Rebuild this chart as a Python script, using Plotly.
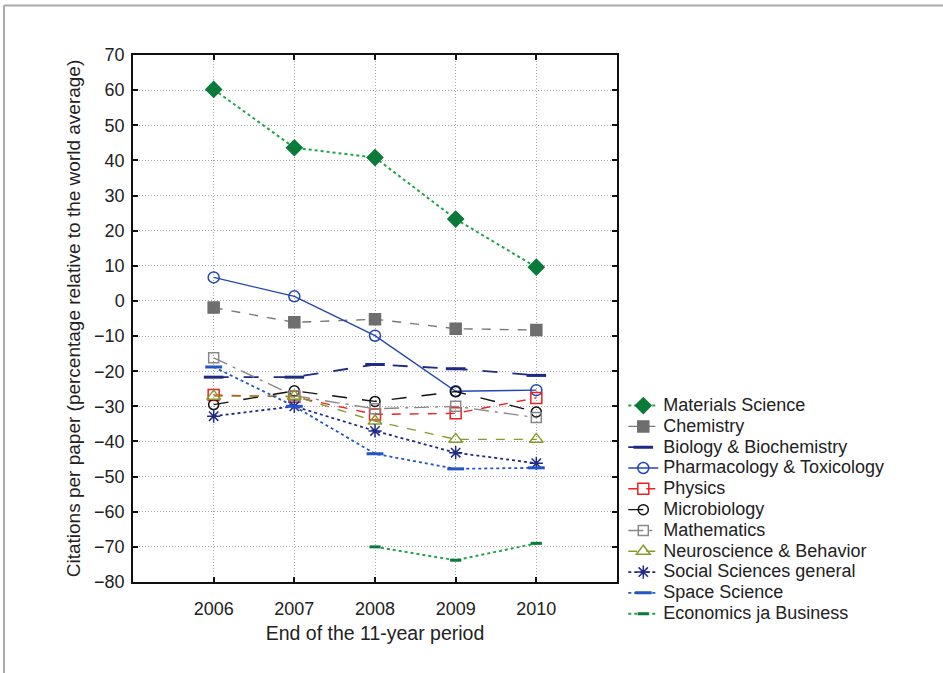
import plotly.graph_objects as go

years = [2006, 2007, 2008, 2009, 2010]

materials_science = [60.2, 43.6, 40.8, 23.3, 9.6]
chemistry = [-1.9, -6.1, -5.2, -7.9, -8.3]
biology_biochemistry = [-21.7, -21.7, -18.1, -19.3, -21.2]
pharmacology_toxicology = [6.7, 1.3, -9.9, -25.7, -25.4]
physics = [-26.8, -27.3, -32.3, -32.0, -27.6]
microbiology = [-29.5, -25.6, -28.6, -25.8, -31.6]
mathematics = [-16.2, -27.0, -30.7, -30.0, -33.2]
neuroscience_behavior = [-27.1, -27.1, -34.2, -39.4, -39.4]
social_sciences = [-32.8, -30.0, -37.0, -43.2, -46.2]
space_science = [-18.8, -30.0, -43.5, -47.8, -47.5]
econ_years = [2008, 2009, 2010]
economics_business = [-70.0, -73.8, -69.0]

series_names = [
    "Materials Science", "Chemistry", "Biology & Biochemistry",
    "Pharmacology & Toxicology", "Physics", "Microbiology", "Mathematics",
    "Neuroscience & Behavior", "Social Sciences general", "Space Science",
    "Economics ja Business",
]

y_ticks = list(range(-80, 71, 10))

FONT = "Liberation Sans, Arial, sans-serif"
TXT = "#222222"

fig = go.Figure()


def add(name, x, y, color, dash, symbol, msize, mcolor=None, mline=None, mfill=None, lw=1.4):
    fig.add_trace(go.Scatter(
        x=x, y=y, mode="lines+markers",
        name='<span style="font-size:18px">' + name.replace("&", "&amp;") + "</span>",
        line=dict(color=color, dash=dash, width=lw),
        marker=dict(symbol=symbol, size=msize,
                    color=mfill if mfill is not None else (mcolor or color),
                    line=dict(color=mline or mcolor or color, width=1.5 if mline is None else 3)),
    ))


add(series_names[0], years, materials_science, "#22a34a", "dot", "diamond", 12,
    mcolor="#0a7a3a", lw=2)
add(series_names[1], years, chemistry, "#777777", "dash", "square", 11, mcolor="#6e6e6e")
add(series_names[2], years, biology_biochemistry, "#1e2a86", "longdash", "line-ew", 14,
    mline="#1e2a86", lw=1.8)
add(series_names[3], years, pharmacology_toxicology, "#2346b4", "solid", "circle-open", 11)
add(series_names[4], years, physics, "#ee2020", "dash", "square-open", 11)
add(series_names[5], years, microbiology, "#111111", "longdash", "circle-open", 10)
add(series_names[6], years, mathematics, "#888888", "longdashdot", "square-open", 10)
add(series_names[7], years, neuroscience_behavior, "#8a9a2a", "dash", "triangle-up-open", 12)
add(series_names[8], years, social_sciences, "#1e2a86", "dot", "asterisk-open", 11, lw=1.8)
add(series_names[9], years, space_science, "#2255c8", "dot", "line-ew", 12,
    mline="#2255c8", lw=1.8)
add(series_names[10], econ_years, economics_business, "#22a34a", "dot", "line-ew", 8,
    mline="#0a7a3a", lw=2)

axis_common = dict(
    showline=True, linecolor="#111111", linewidth=1.5, mirror="ticks",
    ticks="inside", ticklen=5, tickcolor="#111111", tickwidth=1.5,
    showgrid=True, gridcolor="#a8a8a8", griddash="1px,2px", gridwidth=1,
    zeroline=False,
)

fig.update_xaxes(
    range=[2005, 2011], tickvals=years, ticktext=[str(v) for v in years],
    tickfont=dict(family=FONT, size=18, color=TXT),
    ticklabelstandoff=10,
    title=dict(text="End of the 11-year period", standoff=8,
               font=dict(family=FONT, size=19.5, color=TXT)),
    **axis_common,
)
fig.update_yaxes(
    range=[-80, 70], tickvals=y_ticks,
    tickfont=dict(family=FONT, size=18, color=TXT),
    ticklabelstandoff=3,
    title=dict(text="Citations per paper (percentage relative to the world average)",
               standoff=8,
               font=dict(family=FONT, size=19, color=TXT)),
    **axis_common,
)

fig.update_layout(
    width=943, height=673,
    margin=dict(l=133, r=326, t=55, b=91),
    paper_bgcolor="white", plot_bgcolor="white",
    showlegend=True,
    legend=dict(x=1.013, y=0.364, xanchor="left", yanchor="top",
                font=dict(family=FONT, size=13.7, color=TXT),
                bgcolor="rgba(0,0,0,0)", itemwidth=30, tracegroupgap=0),
    shapes=[
        dict(type="line", xref="paper", yref="paper", x0=-0.2665, x1=1.68, y0=1.094, y1=1.094,
             line=dict(color="#aaaaaa", width=2)),
        dict(type="line", xref="paper", yref="paper", x0=-0.2665, x1=-0.2665, y0=1.094, y1=-0.18,
             line=dict(color="#aaaaaa", width=2)),
    ],
)

fig.write_html("out.html", config={"displayModeBar": False},
               post_script="document.body.style.margin='0px';")
